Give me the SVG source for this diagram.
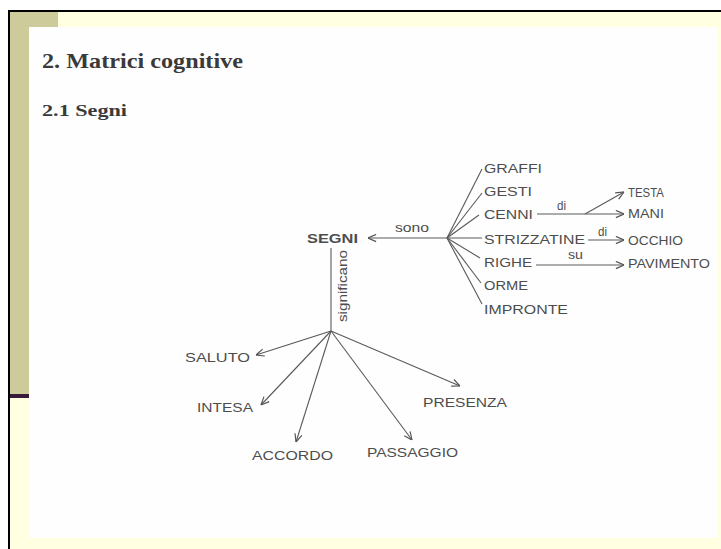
<svg xmlns="http://www.w3.org/2000/svg" width="721" height="549" viewBox="0 0 721 549">
<style>
.t{font-family:"Liberation Sans",Arial,sans-serif;font-size:13px;fill:#4d4d4d}
.h{font-family:"Liberation Serif","Times New Roman",serif;font-weight:bold;fill:#3a3a3a}
.l{stroke:#5a5a5a;stroke-width:1.1;fill:none}
</style>
<defs>
<marker id="arr" viewBox="0 0 10 10" refX="10" refY="5" markerWidth="9" markerHeight="9" markerUnits="userSpaceOnUse" orient="auto">
<path d="M1,1 L10,5 L1,9" fill="none" stroke="#555" stroke-width="1.3"/>
</marker>
</defs>
<rect x="0" y="0" width="721" height="549" fill="#ffffff"/>
<rect x="9" y="11" width="712" height="538" fill="#ffffe2"/>
<rect x="10" y="12" width="48" height="15" fill="#cdcb9a"/>
<rect x="10" y="12" width="19" height="383" fill="#cdcb9a"/>
<rect x="10" y="394" width="19" height="4" fill="#3a1a3a"/>
<rect x="29" y="27" width="688" height="511" fill="#fefefe"/>
<line x1="9" y1="11" x2="721" y2="11" stroke="#000" stroke-width="2"/>
<line x1="9" y1="10" x2="9" y2="549" stroke="#000" stroke-width="2"/>

<text class="h" x="42" y="68" font-size="21" textLength="201" lengthAdjust="spacingAndGlyphs">2. Matrici cognitive</text>
<text class="h" x="42" y="116" font-size="17" textLength="85" lengthAdjust="spacingAndGlyphs">2.1 Segni</text>

<g id="connectors">
<line class="l" x1="447" y1="238" x2="368" y2="238" marker-end="url(#arr)"/>
<line class="l" x1="447" y1="238" x2="482" y2="238"/>
<line class="l" x1="447" y1="238" x2="482" y2="169"/>
<line class="l" x1="447" y1="238" x2="482" y2="193"/>
<line class="l" x1="447" y1="238" x2="479" y2="215"/>
<line class="l" x1="447" y1="238" x2="480" y2="258"/>
<line class="l" x1="447" y1="238" x2="481" y2="283"/>
<line class="l" x1="447" y1="238" x2="482" y2="304"/>
<line class="l" x1="537" y1="214" x2="624" y2="214" marker-end="url(#arr)"/>
<line class="l" x1="585" y1="214" x2="624" y2="192" marker-end="url(#arr)"/>
<line class="l" x1="588" y1="240" x2="624" y2="240" marker-end="url(#arr)"/>
<line class="l" x1="536" y1="265" x2="624" y2="265" marker-end="url(#arr)"/>
<line class="l" x1="331" y1="248" x2="331" y2="331"/>
<line class="l" x1="331" y1="331" x2="256" y2="355" marker-end="url(#arr)"/>
<line class="l" x1="331" y1="331" x2="261" y2="405" marker-end="url(#arr)"/>
<line class="l" x1="331" y1="331" x2="296" y2="442" marker-end="url(#arr)"/>
<line class="l" x1="331" y1="331" x2="412" y2="440" marker-end="url(#arr)"/>
<line class="l" x1="331" y1="331" x2="460" y2="386" marker-end="url(#arr)"/>
<text class="t" x="395" y="232" textLength="34" lengthAdjust="spacingAndGlyphs">sono</text>
<text class="t" x="557" y="210" textLength="9" lengthAdjust="spacingAndGlyphs">di</text>
<text class="t" x="598" y="236" textLength="9" lengthAdjust="spacingAndGlyphs">di</text>
<text class="t" x="568" y="259" textLength="15" lengthAdjust="spacingAndGlyphs">su</text>
<text class="t" transform="translate(347,322) rotate(-90)" textLength="72" lengthAdjust="spacingAndGlyphs">significano</text>
</g>

<g id="segni"><text class="t" x="307" y="243" font-weight="bold" font-size="14" fill="#333" textLength="51" lengthAdjust="spacingAndGlyphs">SEGNI</text></g>
<g id="graffi"><text class="t" x="484" y="173" textLength="58" lengthAdjust="spacingAndGlyphs">GRAFFI</text></g>
<g id="gesti"><text class="t" x="484" y="196" textLength="48" lengthAdjust="spacingAndGlyphs">GESTI</text></g>
<g id="cenni"><text class="t" x="484" y="219" textLength="49" lengthAdjust="spacingAndGlyphs">CENNI</text></g>
<g id="strizzatine"><text class="t" x="484" y="244" textLength="101" lengthAdjust="spacingAndGlyphs">STRIZZATINE</text></g>
<g id="righe"><text class="t" x="484" y="267" textLength="48" lengthAdjust="spacingAndGlyphs">RIGHE</text></g>
<g id="orme"><text class="t" x="484" y="290" textLength="44" lengthAdjust="spacingAndGlyphs">ORME</text></g>
<g id="impronte"><text class="t" x="484" y="314" textLength="84" lengthAdjust="spacingAndGlyphs">IMPRONTE</text></g>
<g id="testa"><text class="t" x="628" y="197" font-size="11" textLength="36" lengthAdjust="spacingAndGlyphs">TESTA</text></g>
<g id="mani"><text class="t" x="628" y="218" font-size="11" textLength="36" lengthAdjust="spacingAndGlyphs">MANI</text></g>
<g id="occhio"><text class="t" x="628" y="245" font-size="11" textLength="55" lengthAdjust="spacingAndGlyphs">OCCHIO</text></g>
<g id="pavimento"><text class="t" x="628" y="268" font-size="11" textLength="82" lengthAdjust="spacingAndGlyphs">PAVIMENTO</text></g>
<g id="saluto"><text class="t" x="185" y="362" textLength="65" lengthAdjust="spacingAndGlyphs">SALUTO</text></g>
<g id="intesa"><text class="t" x="197" y="412" textLength="56" lengthAdjust="spacingAndGlyphs">INTESA</text></g>
<g id="accordo"><text class="t" x="252" y="460" textLength="81" lengthAdjust="spacingAndGlyphs">ACCORDO</text></g>
<g id="passaggio"><text class="t" x="367" y="457" textLength="91" lengthAdjust="spacingAndGlyphs">PASSAGGIO</text></g>
<g id="presenza"><text class="t" x="423" y="407" textLength="84" lengthAdjust="spacingAndGlyphs">PRESENZA</text></g>
</svg>
